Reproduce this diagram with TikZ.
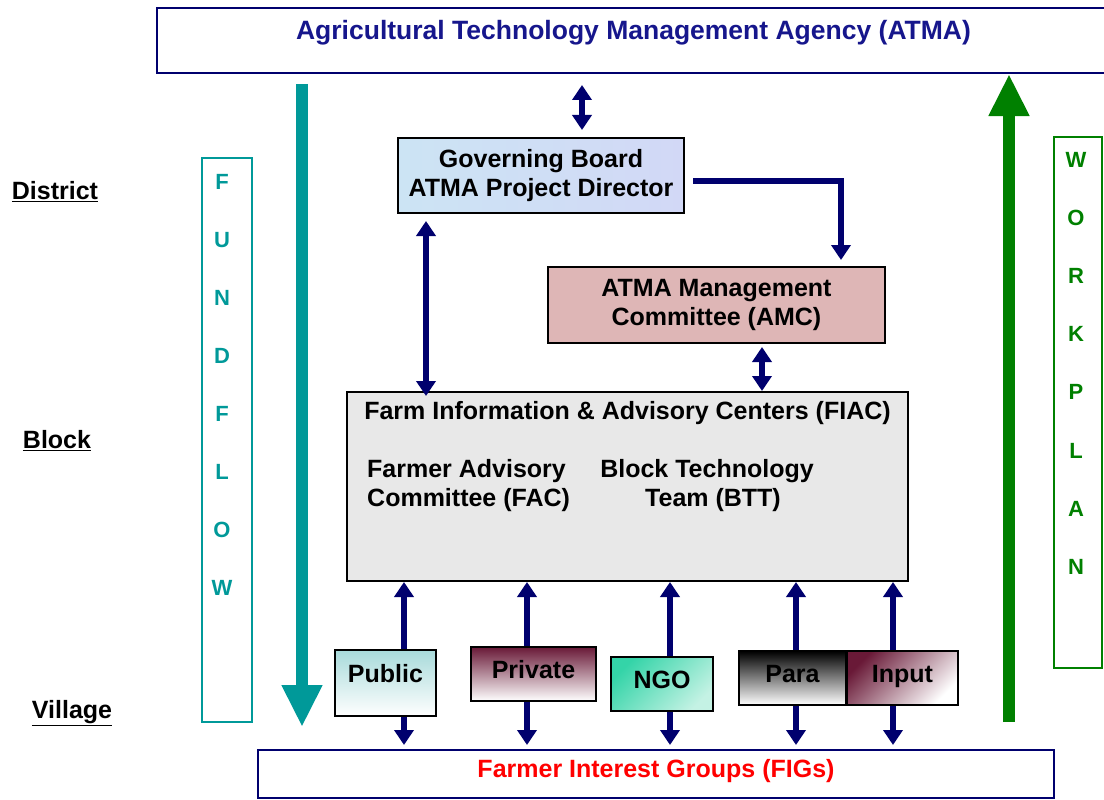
\documentclass[tikz,border=0pt]{standalone}
\usepackage{fontspec}
\setmainfont{Liberation Sans}
\usetikzlibrary{arrows.meta, shadings}

\definecolor{atmanavy}{RGB}{0,0,110}
\definecolor{titleblue}{RGB}{22,22,140}
\definecolor{fundteal}{RGB}{0,153,153}
\definecolor{plangreen}{RGB}{0,128,0}
\definecolor{gbblue}{RGB}{210,216,246}
\definecolor{gbcyan}{RGB}{204,228,244}
\definecolor{amcpink}{RGB}{222,182,182}
\definecolor{fiacgray}{RGB}{232,232,232}
\definecolor{pubcyan}{RGB}{168,218,218}
\definecolor{privmaroon}{RGB}{105,25,55}
\definecolor{ngoteal}{RGB}{52,212,168}
\definecolor{ngolight}{RGB}{196,242,228}

\tikzset{
  txt/.style={font=\fontsize{25}{29}\selectfont\bfseries},
  level/.style={txt, inner sep=0pt},
  unit/.style={draw=black, line width=2pt, txt, align=center, inner sep=0pt},
  agency/.style={unit, text height=18pt, text depth=10pt},
  bar/.style={draw=atmanavy, line width=2pt, txt, inner sep=0pt},
  letterbox/.style={line width=2pt, inner sep=0pt, minimum width=50pt},
  letter/.style={font=\fontsize{22}{26}\selectfont\bfseries, inner sep=0pt},
  link/.style={draw=atmanavy, line width=5.5pt, >={Triangle[width=19pt,length=15pt]}},
  flow/.style={line width=12pt, -{Triangle[width=38pt,length=42pt]}}
}

\begin{document}
\begin{tikzpicture}[x=1pt, y=-1pt]
\useasboundingbox (0,0) rectangle (1104,800);

% levels on the left
\node[level] (district) at (55,192) {\underline{District}};
\node[level] (block) at (57,441) {\underline{Block}};
\node[level] (village) at (72,713) {\underline{Village}};

% agency on top, interest groups at the bottom
\node[bar, minimum width=953pt, minimum height=65pt, text=titleblue,
      font=\fontsize{26.5}{30}\selectfont\bfseries,
      text height=18pt, text depth=19pt] (atma) at (633.5,40.5)
      {Agricultural Technology Management Agency (ATMA)};
\node[bar, minimum width=796pt, minimum height=48pt, text=red,
      text height=18pt, text depth=12pt] (fig) at (656,774)
      {Farmer Interest Groups (FIGs)};

% district and block bodies
\node[unit, minimum width=286pt, minimum height=75pt,
      left color=gbcyan, right color=gbblue] (gb) at (541,175.5)
      {Governing Board\\ATMA Project Director};
\node[unit, minimum width=337pt, minimum height=76pt, fill=amcpink] (amc) at (716.5,305)
      {ATMA Management\\Committee (AMC)};
\node[unit, minimum width=561pt, minimum height=189pt, fill=fiacgray] (fiac) at (627.5,486.5) {};
\node[txt, inner sep=0pt] (fiactitle) at (627.5,413) {Farm Information \& Advisory Centers (FIAC)};
\node[txt, inner sep=0pt, align=left, anchor=west] (fac) at (367,485.5)
      {Farmer Advisory\\Committee (FAC)};
\node[txt, inner sep=0pt, align=center] (btt) at (707,485.5)
      {Block Technology\\\hspace*{12pt}Team (BTT)};

% village level agencies
\node[agency, minimum width=101pt, minimum height=66pt, text depth=20pt,
      top color=pubcyan, bottom color=white] (pub) at (385.5,683) {Public};
\node[agency, minimum width=125pt, minimum height=54pt,
      top color=privmaroon, middle color=privmaroon!22, bottom color=white] (priv) at (533.5,674) {Private};
\node[agency, minimum width=102pt, minimum height=54pt,
      top color=ngoteal, bottom color=ngolight, shading angle=45] (ngo) at (662,684) {NGO};
\node[agency, minimum width=107pt, minimum height=54pt,
      top color=black, middle color=gray!45, bottom color=white, shading angle=0] (para) at (792.5,678) {Para};
\node[agency, minimum width=111pt, minimum height=54pt,
      top color=privmaroon, middle color=white, bottom color=white, shading angle=45] (inp) at (902.5,678) {Input};

% links between the bodies
\coordinate (gb-top) at ([xshift=41pt]gb.north);
\draw[link, <->, shorten <=11pt, shorten >=7pt] (atma.south -| gb-top) -- (gb-top);
\draw[link, ->, shorten >=6pt] ([xshift=8pt,yshift=-5.5pt]gb.east) -| ([xshift=124.5pt]amc.north);
\coordinate (gb-down) at ([xshift=-115pt]gb.south);
\draw[link, <->, shorten <=7pt, shorten >=-5pt] (gb-down) -- (fiac.north -| gb-down);
\coordinate (amc-down) at ([xshift=45.5pt]amc.south);
\draw[link, <->, shorten <=3pt] (amc-down) -- (fiac.north -| amc-down);

\foreach \b/\dx in {pub/18.5, priv/-6.5, ngo/8, para/3.5, inp/-9.5} {
  \coordinate (\b-top) at ([xshift=\dx pt]\b.north);
  \draw[link, ->] (\b-top) -- (fiac.south -| \b-top);
  \draw[link, ->, shorten >=4pt] (\b.south -| \b-top) -- (fig.north -| \b-top);
}

% fund flow
\node[letterbox, draw=fundteal, minimum height=564pt] (fund) at (226.5,440) {};
\foreach \ch [count=\i from 0] in {F,U,N,D,F,L,O,W}
  \node[letter, text=fundteal] (fund-\i) at (222,{182+58*\i}) {\ch};
\coordinate (fundstart) at (302,84);
\coordinate (fundend) at (302,727);
\draw[flow, fundteal] (fundstart) -- (fundend);

% work plan
\node[letterbox, draw=plangreen, minimum width=48pt, minimum height=531pt] (plan) at (1078,402.5) {};
\foreach \ch [count=\i from 0] in {W,O,R,K,P,L,A,N}
  \node[letter, text=plangreen] (plan-\i) at (1076,{160+58.1*\i}) {\ch};
\coordinate (planstart) at (1009,722);
\draw[flow, plangreen] (planstart) -- (atma.south -| planstart);

\end{tikzpicture}
\end{document}
